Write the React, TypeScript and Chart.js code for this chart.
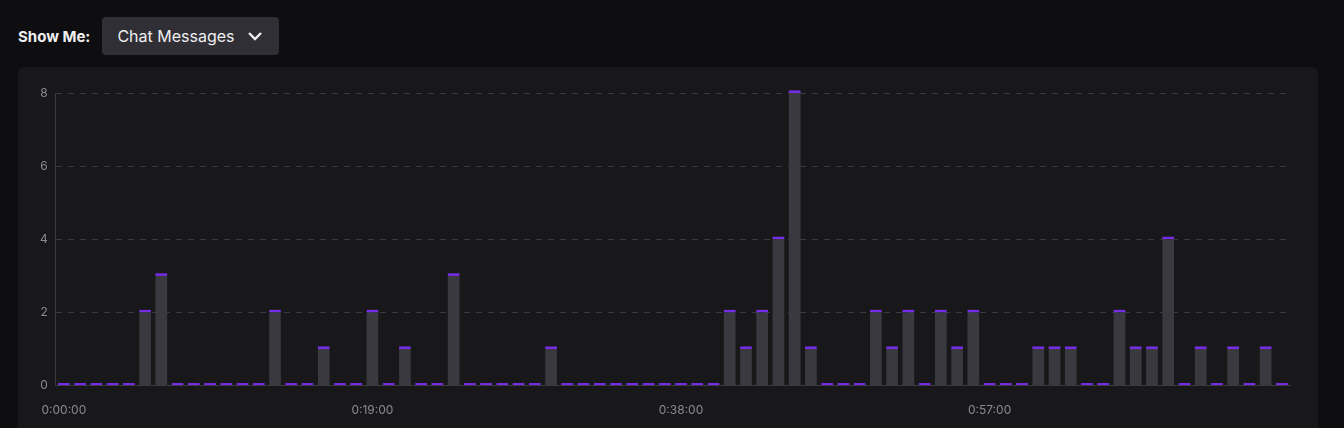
import { useEffect, useRef } from 'react'
import { Chart, registerables } from 'chart.js'

Chart.register(...registerables)

// chat messages per minute
const messages = [
  0, 0, 0, 0, 0, 2, 3, 0, 0, 0, 0, 0, 0, 2, 0, 0, 1, 0, 0, 2,
  0, 1, 0, 0, 3, 0, 0, 0, 0, 0, 1, 0, 0, 0, 0, 0, 0, 0, 0, 0,
  0, 2, 1, 2, 4, 8, 1, 0, 0, 0, 2, 1, 2, 0, 2, 1, 2, 0, 0, 0,
  1, 1, 1, 0, 0, 2, 1, 1, 4, 0, 1, 0, 1, 0, 1, 0,
]
const shownTicks: Record<number, string> = { 0: '0:00:00', 19: '0:19:00', 38: '0:38:00', 57: '0:57:00' }
const labels = messages.map((_, i) => shownTicks[i] ?? '')
const capHeight = 0.07

export default function App() {
  const canvasRef = useRef<HTMLCanvasElement>(null)

  useEffect(() => {
    document.body.style.margin = '0'
    document.body.style.background = '#0e0e10'
    if (!canvasRef.current) return
    const chart = new Chart(canvasRef.current, {
      type: 'bar',
      data: {
        labels,
        datasets: [
          { data: messages, backgroundColor: '#3a393f', barPercentage: 0.72, categoryPercentage: 1, clip: false },
          { data: messages.map(() => capHeight), backgroundColor: '#772ce8', barPercentage: 0.72, categoryPercentage: 1, clip: false },
        ],
      },
      options: {
        responsive: false,
        animation: false,
        plugins: { legend: { display: false }, tooltip: { enabled: false } },
        layout: { padding: { left: 14, right: 28, top: 26, bottom: 0 } },
        scales: {
          x: {
            stacked: true,
            grid: { display: false },
            border: { color: '#3a3a3f' },
            ticks: {
              autoSkip: false, maxRotation: 0, color: '#8a8a90',
              font: { family: 'Inter', size: 12 }, padding: 10,
              callback: (_v, i) => labels[i],
            },
          },
          y: {
            stacked: true,
            min: 0, max: 8,
            ticks: { stepSize: 2, color: '#8a8a90', font: { family: 'Inter', size: 12 }, padding: 8 },
            grid: { color: '#3a3a40', drawTicks: false },
            border: { dash: [6, 6], color: '#3a3a3f' },
          },
        },
      },
    })
    return () => { chart.destroy() }
  }, [])

  return (
    <div style={{ fontFamily: 'Inter, sans-serif', width: 1344, height: 428, overflow: 'hidden', background: '#0e0e10', position: 'relative' }}>
      <div style={{ position: 'absolute', left: 18, top: 17, display: 'flex', alignItems: 'center' }}>
        <span style={{ color: '#efeff1', fontWeight: 700, fontSize: 15, marginRight: 12 }}>Show Me:</span>
        <div style={{ background: '#2f2f35', color: '#efeff1', borderRadius: 4, height: 38, width: 177, boxSizing: 'border-box', padding: '0 15px', display: 'flex', alignItems: 'center', fontSize: 16 }}>
          Chat Messages
          <svg width="16" height="12" viewBox="0 0 16 12" style={{ marginLeft: 12 }}>
            <path d="M2 3 L8 9 L14 3" stroke="#efeff1" strokeWidth="2.4" fill="none" />
          </svg>
        </div>
      </div>
      <div style={{ position: 'absolute', left: 18, top: 67, width: 1300, height: 380, background: '#18181b', borderRadius: 6 }}>
        <canvas ref={canvasRef} width={1300} height={361} style={{ display: 'block' }} />
      </div>
    </div>
  )
}
